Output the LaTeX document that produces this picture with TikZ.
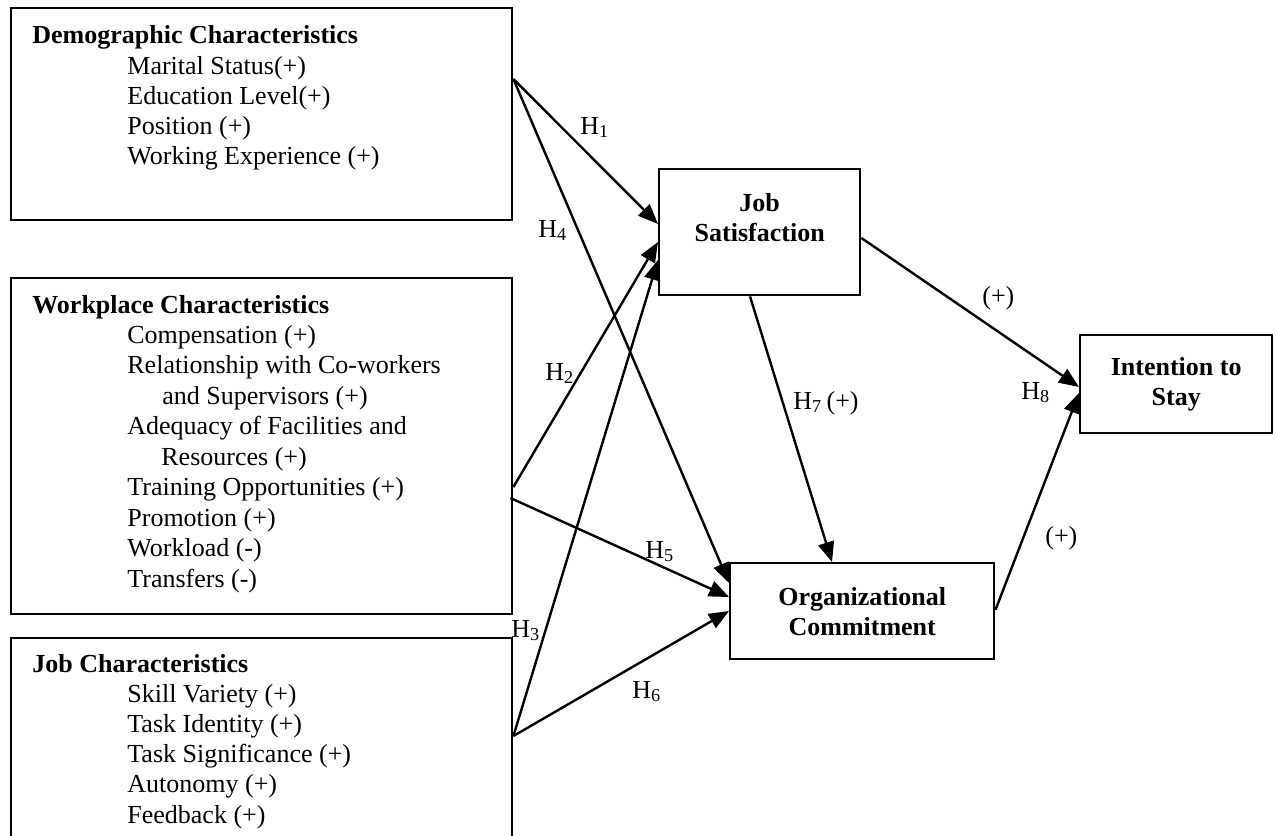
\documentclass[tikz,border=0pt]{standalone}
\usepackage{fontspec}
\setmainfont{Liberation Serif}
\usetikzlibrary{arrows.meta,calc}

\tikzset{
  box/.style={draw, line width=1.2pt, inner sep=0pt, anchor=north west},
  boxtitle/.style={box, font=\fontsize{13}{15}\selectfont\bfseries, align=center},
  txt/.style={font=\fontsize{13}{15}\selectfont, anchor=base west, inner sep=0pt},
  head/.style={txt, font=\fontsize{13}{15}\selectfont\bfseries},
  hyp/.style={-{Triangle[length=10pt,width=8pt]}, line width=1.2pt}
}

\begin{document}
\begin{tikzpicture}[x=0.5pt,y=-0.5pt]
\useasboundingbox (0,0) rectangle (1277,835);
\clip (0,0) rectangle (1277,835);

% left boxes
\node[box, minimum width=250.5pt, minimum height=106pt] (demo) at (10,7) {};
\node[box, minimum width=250.5pt, minimum height=168pt] (work) at (10,277) {};
\node[box, minimum width=250.5pt, minimum height=130pt] (jobc) at (10,637) {};

\node[head] (demohead) at (32,43) {Demographic Characteristics};
\foreach \t [count=\i from 0] in {Marital Status(+), Education Level(+), Position (+), Working Experience (+)}
  \node[txt] (demo\i) at (127,{74+30*\i}) {\t};

\node[head] (workhead) at (32,313) {Workplace Characteristics};
\foreach \t [count=\i from 0] in {Compensation (+), Relationship with Co-workers, \hspace*{17.5pt}and Supervisors (+), Adequacy of Facilities and, \hspace*{17pt}Resources (+), Training Opportunities (+), Promotion (+), Workload (-), Transfers (-)}
  \node[txt] (work\i) at (127,{343+30.5*\i}) {\t};

\node[head] (jobchead) at (32,672) {Job Characteristics};
\foreach \t [count=\i from 0] in {Skill Variety (+), Task Identity (+), Task Significance (+), Autonomy (+), Feedback (+)}
  \node[txt] (jobc\i) at (127,{702+30.3*\i}) {\t};

% right boxes
\node[boxtitle, minimum width=100.5pt, minimum height=63pt] (js) at (658,168) {Job\\Satisfaction\\~};
\node[boxtitle, minimum width=132pt, minimum height=48pt] (oc) at (729,562) {Organizational\\Commitment};
\node[boxtitle, minimum width=96pt, minimum height=49pt] (stay) at (1079,334) {Intention to\\Stay};

% hypotheses
\draw[hyp] ($(demo.north east)+(0,72)$) -- ($(js.north west)+(0,56)$);
\draw[hyp] ($(demo.north east)+(0,72)$) -- ($(oc.north west)+(0,21)$);
\draw[hyp] ($(work.north east)+(0,210)$) -- ($(js.north west)+(0,74)$);
\draw[hyp] ($(jobc.north east)+(0,99)$) -- ($(js.north west)+(0,92)$);
\draw[hyp] ($(work.north east)+(-3,221)$) -- ($(oc.north west)+(0,35)$);
\draw[hyp] ($(jobc.north east)+(0,99)$) -- ($(oc.north west)+(0,49)$);
\draw[hyp] ($(js.south west)+(92,0)$) -- ($(oc.north west)+(103,0)$);
\draw[hyp] ($(js.north east)+(0,70)$) -- ($(stay.north west)+(0,53)$);
\draw[hyp] ($(oc.north east)+(0,48)$) -- ($(stay.north west)+(0,59)$);

\node[txt] (h1) at (580,134) {H\textsubscript{1}};
\node[txt] (h4) at (538,237) {H\textsubscript{4}};
\node[txt] (h2) at (545,380) {H\textsubscript{2}};
\node[txt] (h3) at (511,637) {H\textsubscript{3}};
\node[txt] (h5) at (645,558) {H\textsubscript{5}};
\node[txt] (h6) at (632,698) {H\textsubscript{6}};
\node[txt] (h7) at (793,409) {H\textsubscript{7}\,(+)};
\node[txt] (h8) at (1021,399) {H\textsubscript{8}};
\node[txt] (pos1) at (982,304) {(+)};
\node[txt] (pos2) at (1045,544) {(+)};
\end{tikzpicture}
\end{document}
